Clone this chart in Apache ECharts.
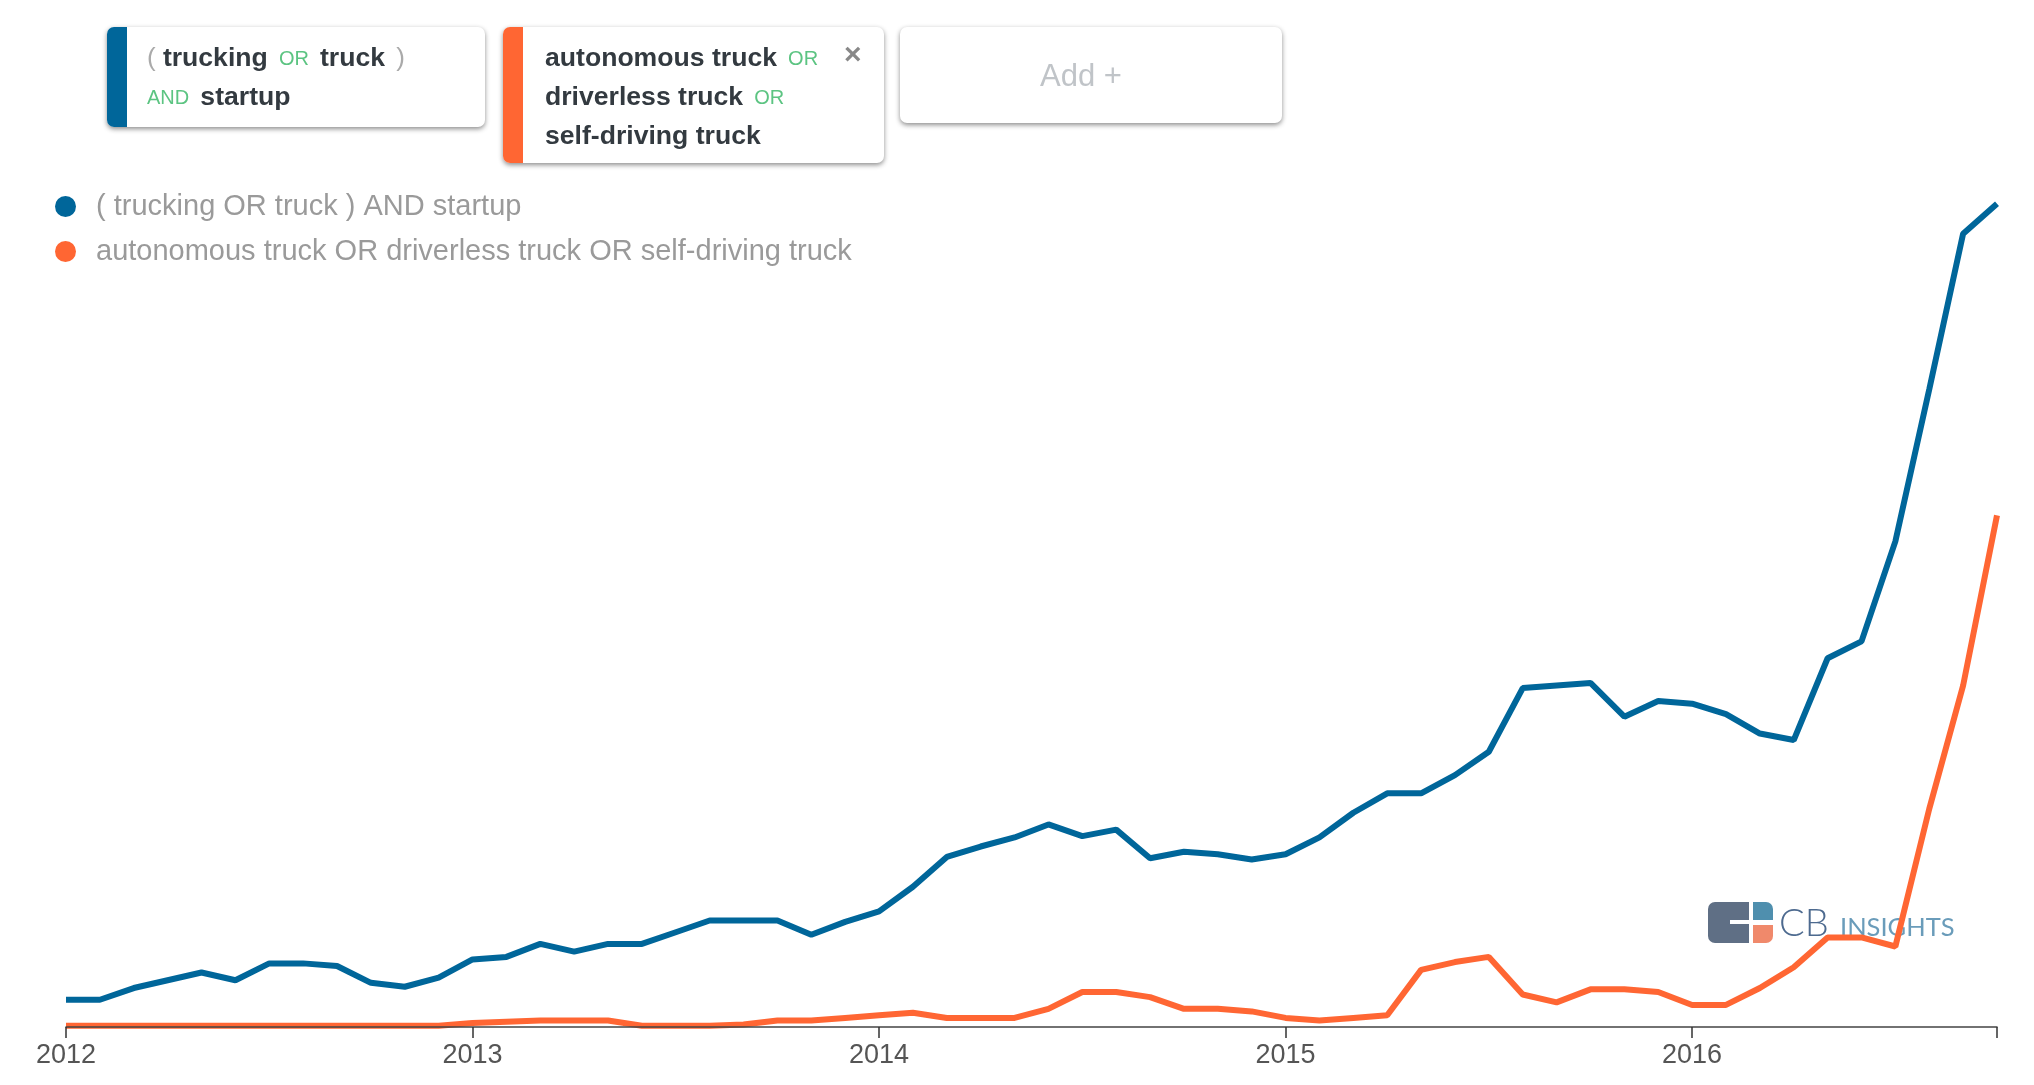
<!DOCTYPE html>
<html>
<head>
<meta charset="utf-8">
<title>Trucking startup mentions</title>
<script src="https://cdn.jsdelivr.net/npm/echarts@6/dist/echarts.min.js"></script>
<style>
  html, body { margin: 0; padding: 0; background: #fff; }
  #main { width: 2034px; height: 1085px; }
</style>
</head>
<body>
<div id="main"></div>
<script>
// 数据 (mentions, relative units)
const seriesNames = [
  "( trucking OR truck ) AND startup",
  "autonomous truck OR driverless truck OR self-driving truck",
];
const years = [2012, 2013, 2014, 2015, 2016];
const lastMonth = "2016-10";
const startupMentions = [
  21, 21, 30, 36, 42, 36, 49, 49, 47, 34, 31, 38,
  52, 54, 64, 58, 64, 64, 73, 82, 82, 82, 71, 81,
  89, 108, 131, 139, 146, 156, 147, 152, 130, 135, 133, 129,
  133, 146, 165, 180, 180, 194, 212, 261, 263, 265, 239, 251,
  249, 241, 226, 221, 284, 297, 374, 491, 611, 634,
];
const autonomousMentions = [
  1, 1, 1, 1, 1, 1, 1, 1, 1, 1, 1, 1,
  3, 4, 5, 5, 5, 1, 1, 1, 2, 5, 5, 7,
  9, 11, 7, 7, 7, 14, 27, 27, 23, 14, 14, 12,
  7, 5, 7, 9, 44, 50, 54, 25, 19, 29, 29, 27,
  17, 17, 30, 46, 69, 69, 62, 168, 263, 394,
];

const months = [];
years.forEach(function (y) {
  for (let m = 1; m <= 12; m++) {
    const label = y + "-" + String(m).padStart(2, "0");
    if (label <= lastMonth) months.push(label);
  }
});

const blue = "#00669a";
const orange = "#ff6633";
const font = '"Liberation Sans", Arial, sans-serif';

// rich text tokens for the query cards
const cardRich = {
  w: { fontFamily: font, fontSize: 26.6, fontWeight: "bold", fill: "#333a40" },
  p: { fontFamily: font, fontSize: 26, fill: "#aaaaaa" },
  o: { fontFamily: font, fontSize: 20, fill: "#5cc482" },
  s: { fontFamily: font, fontSize: 40, fill: "#fff" },
};

function cardText(x, y, text) {
  return {
    type: "text",
    style: { x: x, y: y, text: text, rich: cardRich, verticalAlign: "middle" },
  };
}

function card(x, y, w, h, color) {
  const list = [
    {
      type: "rect",
      shape: { x: x, y: y, width: w, height: h, r: 7 },
      style: {
        fill: "#fff",
        shadowBlur: 5,
        shadowOffsetY: 2,
        shadowColor: "rgba(0,0,0,0.45)",
      },
    },
  ];
  if (color) {
    list.push({
      type: "rect",
      shape: { x: x, y: y, width: 20, height: h, r: [7, 0, 0, 7] },
      style: { fill: color },
    });
  }
  return list;
}

const logo = [
  // 左边方块
  { type: "rect", shape: { x: 1708, y: 902, width: 41, height: 41, r: [7, 0, 0, 7] }, style: { fill: "#5f6f85" } },
  { type: "rect", shape: { x: 1730, y: 920, width: 19, height: 4 }, style: { fill: "#fff" } },
  { type: "rect", shape: { x: 1753, y: 902, width: 20, height: 18, r: [0, 7, 0, 0] }, style: { fill: "#4f8fae" } },
  { type: "rect", shape: { x: 1753, y: 925, width: 20, height: 18, r: [0, 0, 7, 0] }, style: { fill: "#f0896b" } },
  {
    type: "text",
    style: { x: 1779, y: 924, text: "CB", fontFamily: "Lato", fontSize: 38, fontWeight: 300, fill: "#4d6a8f", verticalAlign: "middle" },
  },
  {
    type: "text",
    style: { x: 1840, y: 928, text: "INSIGHTS", fontFamily: "Lato", fontSize: 25.5, fill: "#6a9cba", verticalAlign: "middle" },
  },
];

const elements = [].concat(
  logo,
  card(107, 27, 378, 100, blue),
  [
    cardText(147, 59, "{p|( }{w|trucking}{s| }{o|OR}{s| }{w|truck}{s| }{p|)}"),
    cardText(147, 98, "{o|AND}{s| }{w|startup}"),
  ],
  card(503, 27, 381, 136, orange),
  [
    cardText(545, 59, "{w|autonomous truck}{s| }{o|OR}"),
    cardText(545, 98, "{w|driverless truck}{s| }{o|OR}"),
    cardText(545, 137, "{w|self-driving truck}"),
    {
      type: "text",
      style: { x: 844, y: 56, text: "×", fontFamily: font, fontSize: 30, fontWeight: "bold", fill: "#888", verticalAlign: "middle" },
    },
  ],
  card(900, 27, 382, 96, null),
  [
    {
      type: "text",
      style: { x: 1081, y: 77, text: "Add +", fontFamily: font, fontSize: 31, fill: "#c0c4c8", align: "center", verticalAlign: "middle" },
    },
  ]
);

let myChart = echarts.init(document.getElementById("main"));
let option = {
  animation: false,
  backgroundColor: "#fff",
  graphic: { elements: elements },
  legend: {
    orient: "vertical",
    left: 50,
    top: 187,
    icon: "circle",
    itemWidth: 21,
    itemHeight: 21,
    itemGap: 16,
    textStyle: { fontFamily: font, fontSize: 29, color: "#9a9a9a", padding: [0, 0, 0, 15] },
    data: seriesNames,
  },
  grid: { left: 66, right: 37, top: 196, bottom: 58 },
  xAxis: {
    type: "category",
    boundaryGap: false,
    data: months,
    z: 5,
    axisLine: { lineStyle: { color: "#444", width: 1.5 } },
    axisTick: {
      length: 11,
      lineStyle: { color: "#333", width: 1.5 },
      interval: function (i, v) {
        return v.slice(5) === "01" || v === lastMonth;
      },
    },
    axisLabel: {
      fontFamily: font,
      fontSize: 27,
      color: "#555",
      margin: 15,
      interval: function (i, v) {
        return v.slice(5) === "01";
      },
      formatter: function (v) {
        return v.slice(0, 4);
      },
    },
  },
  yAxis: { type: "value", min: 0, max: 640, show: false },
  series: [
    {
      name: seriesNames[0],
      type: "line",
      symbol: "none",
      clip: false,
      data: startupMentions,
      lineStyle: { color: blue, width: 6 },
      itemStyle: { color: blue },
    },
    {
      name: seriesNames[1],
      type: "line",
      symbol: "none",
      clip: false,
      data: autonomousMentions,
      lineStyle: { color: orange, width: 6 },
      itemStyle: { color: orange },
    },
  ],
};
myChart.setOption(option);
</script>
</body>
</html>
